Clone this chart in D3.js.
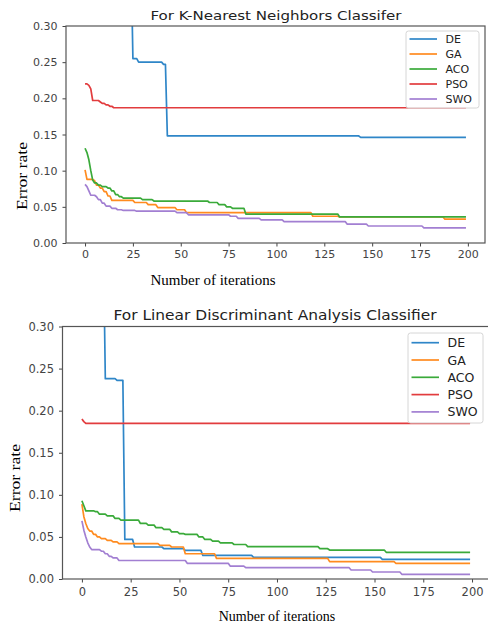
<!DOCTYPE html>
<html>
<head>
<meta charset="utf-8">
<script src="https://cdn.jsdelivr.net/npm/d3@7"></script>
<style>
  body { margin: 0; background: #fff; }
  svg { display: block; }
</style>
</head>
<body>
<svg id="chart" width="488" height="627"></svg>
<script>
const methods = ["DE", "GA", "ACO", "PSO", "SWO"];
const colors = ["#2f86c8", "#ff8b1f", "#3aaa3a", "#e23c3e", "#a27fd2"];
const xTicks = [0, 25, 50, 75, 100, 125, 150, 175, 200];
const yTicks = [0, 0.05, 0.10, 0.15, 0.20, 0.25, 0.30];
const lastIter = 199;

// each series: [iteration where the value begins, error rate]
const knnDE = [[0, 0.40], [25, 0.255], [28, 0.25], [41, 0.247], [43, 0.148], [144, 0.146]];
const knnGA = [[0, 0.101], [1, 0.088], [5, 0.086], [6, 0.08], [8, 0.076], [10, 0.071], [12, 0.065],
  [14, 0.059], [26, 0.056], [33, 0.053], [38, 0.049], [48, 0.046], [53, 0.042], [119, 0.037], [133, 0.036], [188, 0.033]];
const knnACO = [[0, 0.131], [1, 0.125], [2, 0.115], [3, 0.1], [4, 0.087], [5, 0.083], [7, 0.08], [9, 0.078],
  [12, 0.076], [14, 0.072], [16, 0.067], [18, 0.064], [20, 0.062], [30, 0.06], [36, 0.058], [65, 0.056],
  [70, 0.053], [74, 0.05], [77, 0.048], [84, 0.04], [133, 0.036]];
const knnPSO = [[0, 0.22], [2, 0.218], [3, 0.213], [4, 0.197], [8, 0.195], [9, 0.193], [11, 0.191], [13, 0.189], [15, 0.187]];
const knnSWO = [[0, 0.081], [1, 0.078], [2, 0.072], [3, 0.066], [6, 0.064], [7, 0.06], [9, 0.055], [11, 0.051],
  [14, 0.048], [17, 0.046], [20, 0.045], [27, 0.044], [48, 0.042], [54, 0.039], [76, 0.037], [80, 0.034],
  [92, 0.032], [104, 0.0295], [137, 0.026], [148, 0.0235], [177, 0.021]];

const ldaDE = [[0, 0.40], [12, 0.238], [18, 0.236], [22, 0.047], [27, 0.038], [42, 0.036], [53, 0.034],
  [62, 0.028], [88, 0.0258], [154, 0.0234]];
const ldaGA = [[0, 0.089], [1, 0.074], [2, 0.066], [3, 0.06], [4, 0.057], [6, 0.053], [8, 0.05], [10, 0.048],
  [13, 0.046], [16, 0.044], [19, 0.042], [40, 0.04], [46, 0.038], [53, 0.03], [69, 0.0245], [127, 0.0206], [161, 0.0186]];
const ldaACO = [[0, 0.093], [1, 0.087], [2, 0.081], [7, 0.08], [9, 0.077], [13, 0.075], [17, 0.072], [20, 0.07],
  [30, 0.066], [34, 0.064], [38, 0.061], [42, 0.059], [46, 0.056], [50, 0.054], [53, 0.053], [60, 0.05],
  [63, 0.047], [67, 0.045], [71, 0.043], [78, 0.041], [85, 0.0384], [122, 0.036], [127, 0.0344], [156, 0.0317]];
const ldaPSO = [[0, 0.19], [1, 0.187], [2, 0.185]];
const ldaSWO = [[0, 0.069], [1, 0.058], [2, 0.05], [3, 0.043], [4, 0.038], [5, 0.035], [10, 0.033], [12, 0.03],
  [14, 0.027], [16, 0.025], [19, 0.022], [54, 0.0186], [76, 0.0154], [84, 0.0134], [138, 0.0107], [149, 0.0083], [164, 0.0056]];

const svg = d3.select("#chart");

// per-iteration plotting: a change at i is drawn from (i-1, old) to (i, new)
function stepPoints(s) {
  const pts = [];
  s.forEach(([i, v], k) => {
    if (k > 0) pts.push([i - 1, s[k - 1][1]]);
    pts.push([i, v]);
  });
  pts.push([lastIter, s[s.length - 1][1]]);
  return pts;
}

function panel(cfg) {
  const x = d3.scaleLinear().domain([-9.95, 208.95]).range([cfg.left, cfg.right]);
  const y = d3.scaleLinear().domain([0, 0.3]).range([cfg.bottom, cfg.top]);
  const g = svg.append("g");

  g.append("clipPath").attr("id", cfg.id)
    .append("rect")
    .attr("x", cfg.left).attr("y", cfg.top)
    .attr("width", cfg.right - cfg.left).attr("height", cfg.bottom - cfg.top);

  const line = d3.line().x(d => x(d[0])).y(d => y(d[1]));
  g.append("g").attr("clip-path", `url(#${cfg.id})`)
    .selectAll("path")
    .data(cfg.series)
    .join("path")
    .attr("d", d => line(stepPoints(d)))
    .attr("fill", "none")
    .attr("stroke", (d, i) => colors[i])
    .attr("stroke-width", 1.7)
    .attr("stroke-linejoin", "round");

  // axes
  const xa = g.append("g")
    .attr("transform", `translate(0,${cfg.bottom})`)
    .call(d3.axisBottom(x).tickValues(xTicks).tickFormat(d3.format("d"))
      .tickSize(3.5).tickPadding(cfg.xPad));
  const ya = g.append("g")
    .attr("transform", `translate(${cfg.left},0)`)
    .call(d3.axisLeft(y).tickValues(yTicks).tickFormat(d3.format(".2f"))
      .tickSize(3.5).tickPadding(5));
  [xa, ya].forEach(a => {
    a.select(".domain").remove();
    a.selectAll("line").attr("stroke", "#444");
    a.selectAll("text")
      .attr("fill", "#444")
      .style("font-family", "DejaVu Sans")
      .style("font-size", cfg.tickFont + "px");
  });

  g.append("rect")
    .attr("x", cfg.left).attr("y", cfg.top)
    .attr("width", cfg.right - cfg.left).attr("height", cfg.bottom - cfg.top)
    .attr("fill", "none").attr("stroke", "#555").attr("stroke-width", 1.2);

  g.append("text")
    .attr("x", cfg.titleX).attr("y", cfg.titleY)
    .attr("text-anchor", "middle")
    .attr("fill", "#222")
    .attr("textLength", cfg.titleLen)
    .attr("lengthAdjust", "spacingAndGlyphs")
    .style("font-family", "DejaVu Sans")
    .style("font-size", cfg.titleFont + "px")
    .text(cfg.title);

  g.append("text")
    .attr("transform", `translate(${cfg.yLabel[0]},${cfg.yLabel[1]}) rotate(-90)`)
    .attr("text-anchor", "middle")
    .attr("dominant-baseline", "central")
    .attr("textLength", 68)
    .attr("lengthAdjust", "spacingAndGlyphs")
    .style("font-family", "Liberation Serif")
    .style("font-size", "14.5px")
    .text("Error rate");

  g.append("text")
    .attr("x", cfg.xLabel[0]).attr("y", cfg.xLabel[1])
    .attr("text-anchor", "middle")
    .style("font-family", "Liberation Serif")
    .style("font-size", cfg.xLabelFont + "px")
    .text("Number of iterations");

  // legend
  const L = cfg.legend;
  const lg = g.append("g");
  lg.append("rect")
    .attr("x", L.x).attr("y", L.y).attr("width", L.w).attr("height", L.h)
    .attr("rx", 2.5)
    .attr("fill", "#fff").attr("fill-opacity", 0.85)
    .attr("stroke", "#d6d6d6");
  const item = lg.selectAll("g.item")
    .data(methods)
    .join("g")
    .attr("class", "item")
    .attr("transform", (d, i) => `translate(0,${L.first + i * L.step})`);
  item.append("line")
    .attr("x1", L.x + 3.5).attr("x2", L.x + 31)
    .attr("stroke", (d, i) => colors[i]).attr("stroke-width", 1.7);
  item.append("text")
    .attr("x", L.x + 39.5)
    .attr("dominant-baseline", "central")
    .attr("fill", "#222")
    .style("font-family", "DejaVu Sans")
    .style("font-size", L.font + "px")
    .text(d => d);
}

panel({
  id: "clipKnn", title: "For K-Nearest Neighbors Classifer",
  series: [knnDE, knnGA, knnACO, knnPSO, knnSWO],
  left: 66, right: 485, top: 26, bottom: 243,
  titleX: 276, titleY: 20, titleFont: 13, titleLen: 251, tickFont: 11, xPad: 3.5,
  yLabel: [22, 176], xLabel: [213, 285], xLabelFont: 15,
  legend: { x: 406, y: 31, w: 73, h: 77, first: 39, step: 15, font: 11 }
});

panel({
  id: "clipLda", title: "For Linear Discriminant Analysis Classifier",
  series: [ldaDE, ldaGA, ldaACO, ldaPSO, ldaSWO],
  left: 62.5, right: 489.5, top: 326.5, bottom: 579,
  titleX: 275, titleY: 320, titleFont: 14.5, titleLen: 323, tickFont: 11.5, xPad: 5,
  yLabel: [15, 478], xLabel: [277, 621], xLabelFont: 14,
  legend: { x: 408, y: 333, w: 75, h: 90, first: 342.7, step: 17.3, font: 12.5 }
});
</script>
</body>
</html>
